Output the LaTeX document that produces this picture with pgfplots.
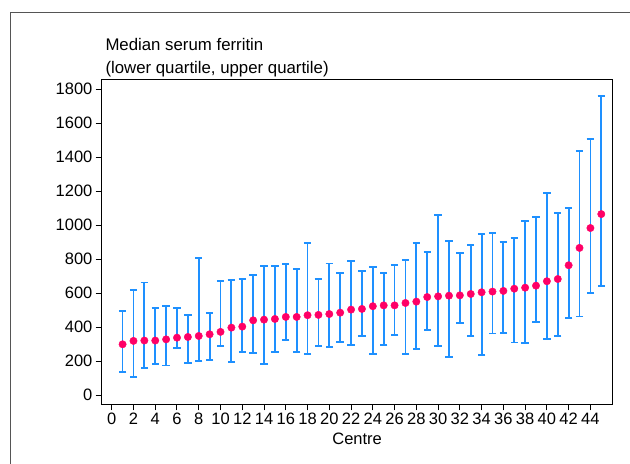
\documentclass[border=0pt]{standalone}
\usepackage{pgfplots}
\pgfplotsset{compat=1.18}
\usepackage{pgfplotstable}
\usepackage{fontspec}
\setmainfont{Liberation Sans}
\definecolor{barblue}{RGB}{30,144,255}
\definecolor{dotpink}{RGB}{255,0,102}
\definecolor{framegray}{RGB}{85,85,85}
\pgfplotstableread{
c med lo hi
1 300 139 494
2 320 106 618
3 322 161 663
4 322 184 514
5 329 175 524
6 339 278 512
7 343 192 471
8 349 200 806
9 359 208 482
10 373 288 671
11 398 194 680
12 404 255 684
13 441 251 708
14 445 182 759
15 449 253 761
16 461 327 773
17 461 253 743
18 471 243 896
19 473 288 684
20 478 284 775
21 486 314 720
22 504 294 790
23 508 347 733
24 524 243 757
25 529 296 718
26 529 357 767
27 543 243 798
28 551 271 894
29 578 382 841
30 582 290 1061
31 586 225 908
32 588 426 839
33 596 349 886
34 606 235 949
35 610 363 955
36 614 367 902
37 627 310 924
38 633 306 1026
39 645 431 1051
40 671 331 1190
41 684 349 1073
42 765 455 1104
43 867 463 1437
44 984 602 1506
45 1066 641 1763
}\data
\begin{document}
\begin{tikzpicture}[x=1bp,y=1bp]
\useasboundingbox (0,0) rectangle (630,464);
\draw[line width=1.5bp, framegray] (10.7,-2) -- (10.7,451.3) -- (632,451.3);
\begin{axis}[
  at={(101.6bp,59.7bp)}, anchor=south west,
  scale only axis, width=511.1bp, height=325bp,
  xmin=-0.93, xmax=46.05, ymin=-53, ymax=1859,
  xtick={0,2,...,44}, ytick={0,200,...,1800},
  tick align=outside, xtick pos=bottom, ytick pos=left,
  major tick length=6bp,
  axis line style={line width=1.4bp, black},
  tick style={line width=1bp, black},
  ticklabel style={font=\fontsize{16.5bp}{19bp}\selectfont},
  xticklabel style={inner sep=2.5bp},
  yticklabel style={inner sep=3bp},
  /pgf/number format/assume math mode=true,
  /pgf/number format/set thousands separator={},
  xlabel={Centre},
  xlabel style={at={(axis description cs:0.5,0)}, anchor=base, yshift=-40bp, font=\fontsize{16.5bp}{19bp}\selectfont},
  clip=false
]
\addplot[only marks, mark=*, mark size=3.7bp,
  mark options={draw=dotpink, fill=dotpink},
  error bars/.cd, y dir=both, y explicit,
  error bar style={barblue, line width=1.8bp},
  error mark options={barblue, line width=1.8bp, mark size=3.7bp, rotate=90}]
  table[x=c, y=med, y error plus expr=\thisrow{hi}-\thisrow{med}, y error minus expr=\thisrow{med}-\thisrow{lo}] {\data};
\end{axis}
\node[anchor=base west, inner sep=0pt, font=\fontsize{16.8bp}{19bp}\selectfont] at (105.3,413) {Median serum ferritin};
\node[anchor=base west, inner sep=0pt, font=\fontsize{16.8bp}{19bp}\selectfont] at (105.3,390.7) {(lower quartile, upper quartile)};
\end{tikzpicture}
\end{document}
